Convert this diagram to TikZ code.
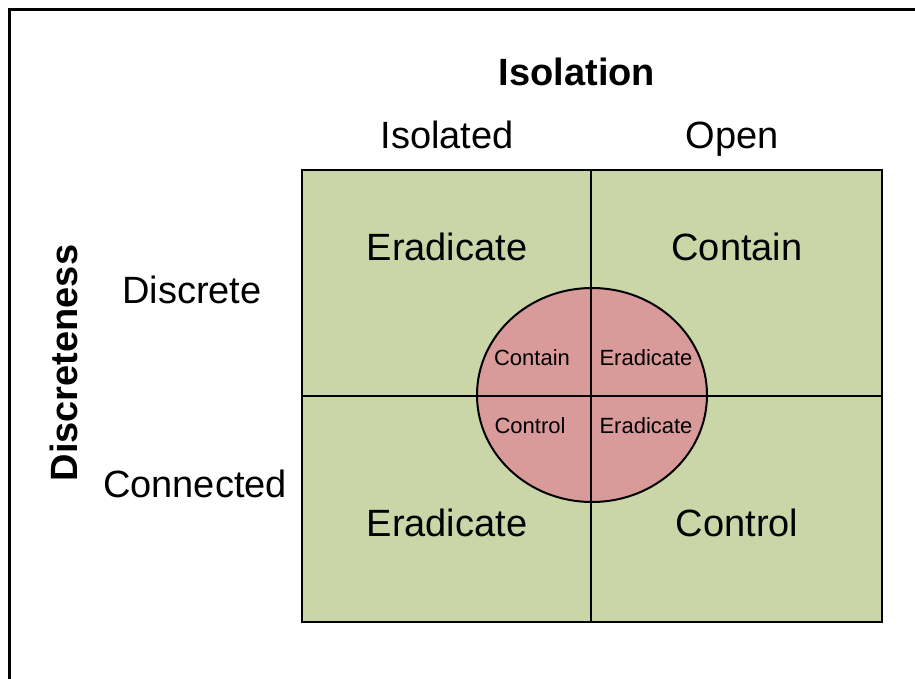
\documentclass[tikz,border=0pt]{standalone}
\usepackage{fontspec}
\setmainfont{Liberation Sans}
\usetikzlibrary{shapes.geometric}
\definecolor{quadgreen}{RGB}{203,214,168}
\definecolor{circpink}{RGB}{217,154,154}
\tikzset{
  big/.style={font=\fontsize{38}{40}\selectfont, anchor=base, inner sep=0pt},
  bigbold/.style={font=\fontsize{38}{40}\selectfont\bfseries, anchor=base, inner sep=0pt},
  small/.style={font=\fontsize{22}{24}\selectfont, anchor=base, inner sep=0pt},
  gridline/.style={line width=2pt, black},
  circbox/.style={ellipse, fill=circpink, draw=black, line width=2pt, minimum width=230pt, minimum height=214pt, inner sep=0pt},
}
\begin{document}
\begin{tikzpicture}[x=1pt,y=-1pt]
\useasboundingbox (0,0) rectangle (915,679);
% outer frame (runs off the right and bottom)
\coordinate (fr1) at (9,679);
\coordinate (fr2) at (9,10);
\coordinate (fr3) at (915,10);
\draw[line width=3pt] (fr1) -- (fr2) -- (fr3);
% grid
\coordinate (gtl) at (302,170);
\coordinate (gbr) at (882,622);
\coordinate (gtm) at (591,170);
\coordinate (gbm) at (591,622);
\coordinate (gml) at (302,396);
\coordinate (gmr) at (882,396);
\fill[quadgreen] (gtl) rectangle (gbr);
\node[circbox] (circ) at (592,395) {};
\draw[gridline] (gtm) -- (gbm);
\draw[gridline] (gml) -- (gmr);
\draw[gridline] (gtl) rectangle (gbr);
% headings
\node[bigbold] (isolation) at (577,86) {Isolation};
\node[big] (isolated) at (447,149) {Isolated};
\node[big] (open) at (732,149) {Open};
\node[big] (discrete) at (192,303) {Discrete};
\node[big] (connected) at (195,497) {Connected};
\node[bigbold, rotate=90] (discreteness) at (77,363) {Discreteness};
% quadrant labels
\node[big] (q1) at (447,260) {Eradicate};
\node[big] (q2) at (737,260) {Contain};
\node[big] (q3) at (447,536) {Eradicate};
\node[big] (q4) at (737,536) {Control};
% circle labels
\node[small] (c1) at (532,365) {Contain};
\node[small] (c2) at (646,365) {Eradicate};
\node[small] (c3) at (530,433) {Control};
\node[small] (c4) at (646,433) {Eradicate};
\end{tikzpicture}
\end{document}
